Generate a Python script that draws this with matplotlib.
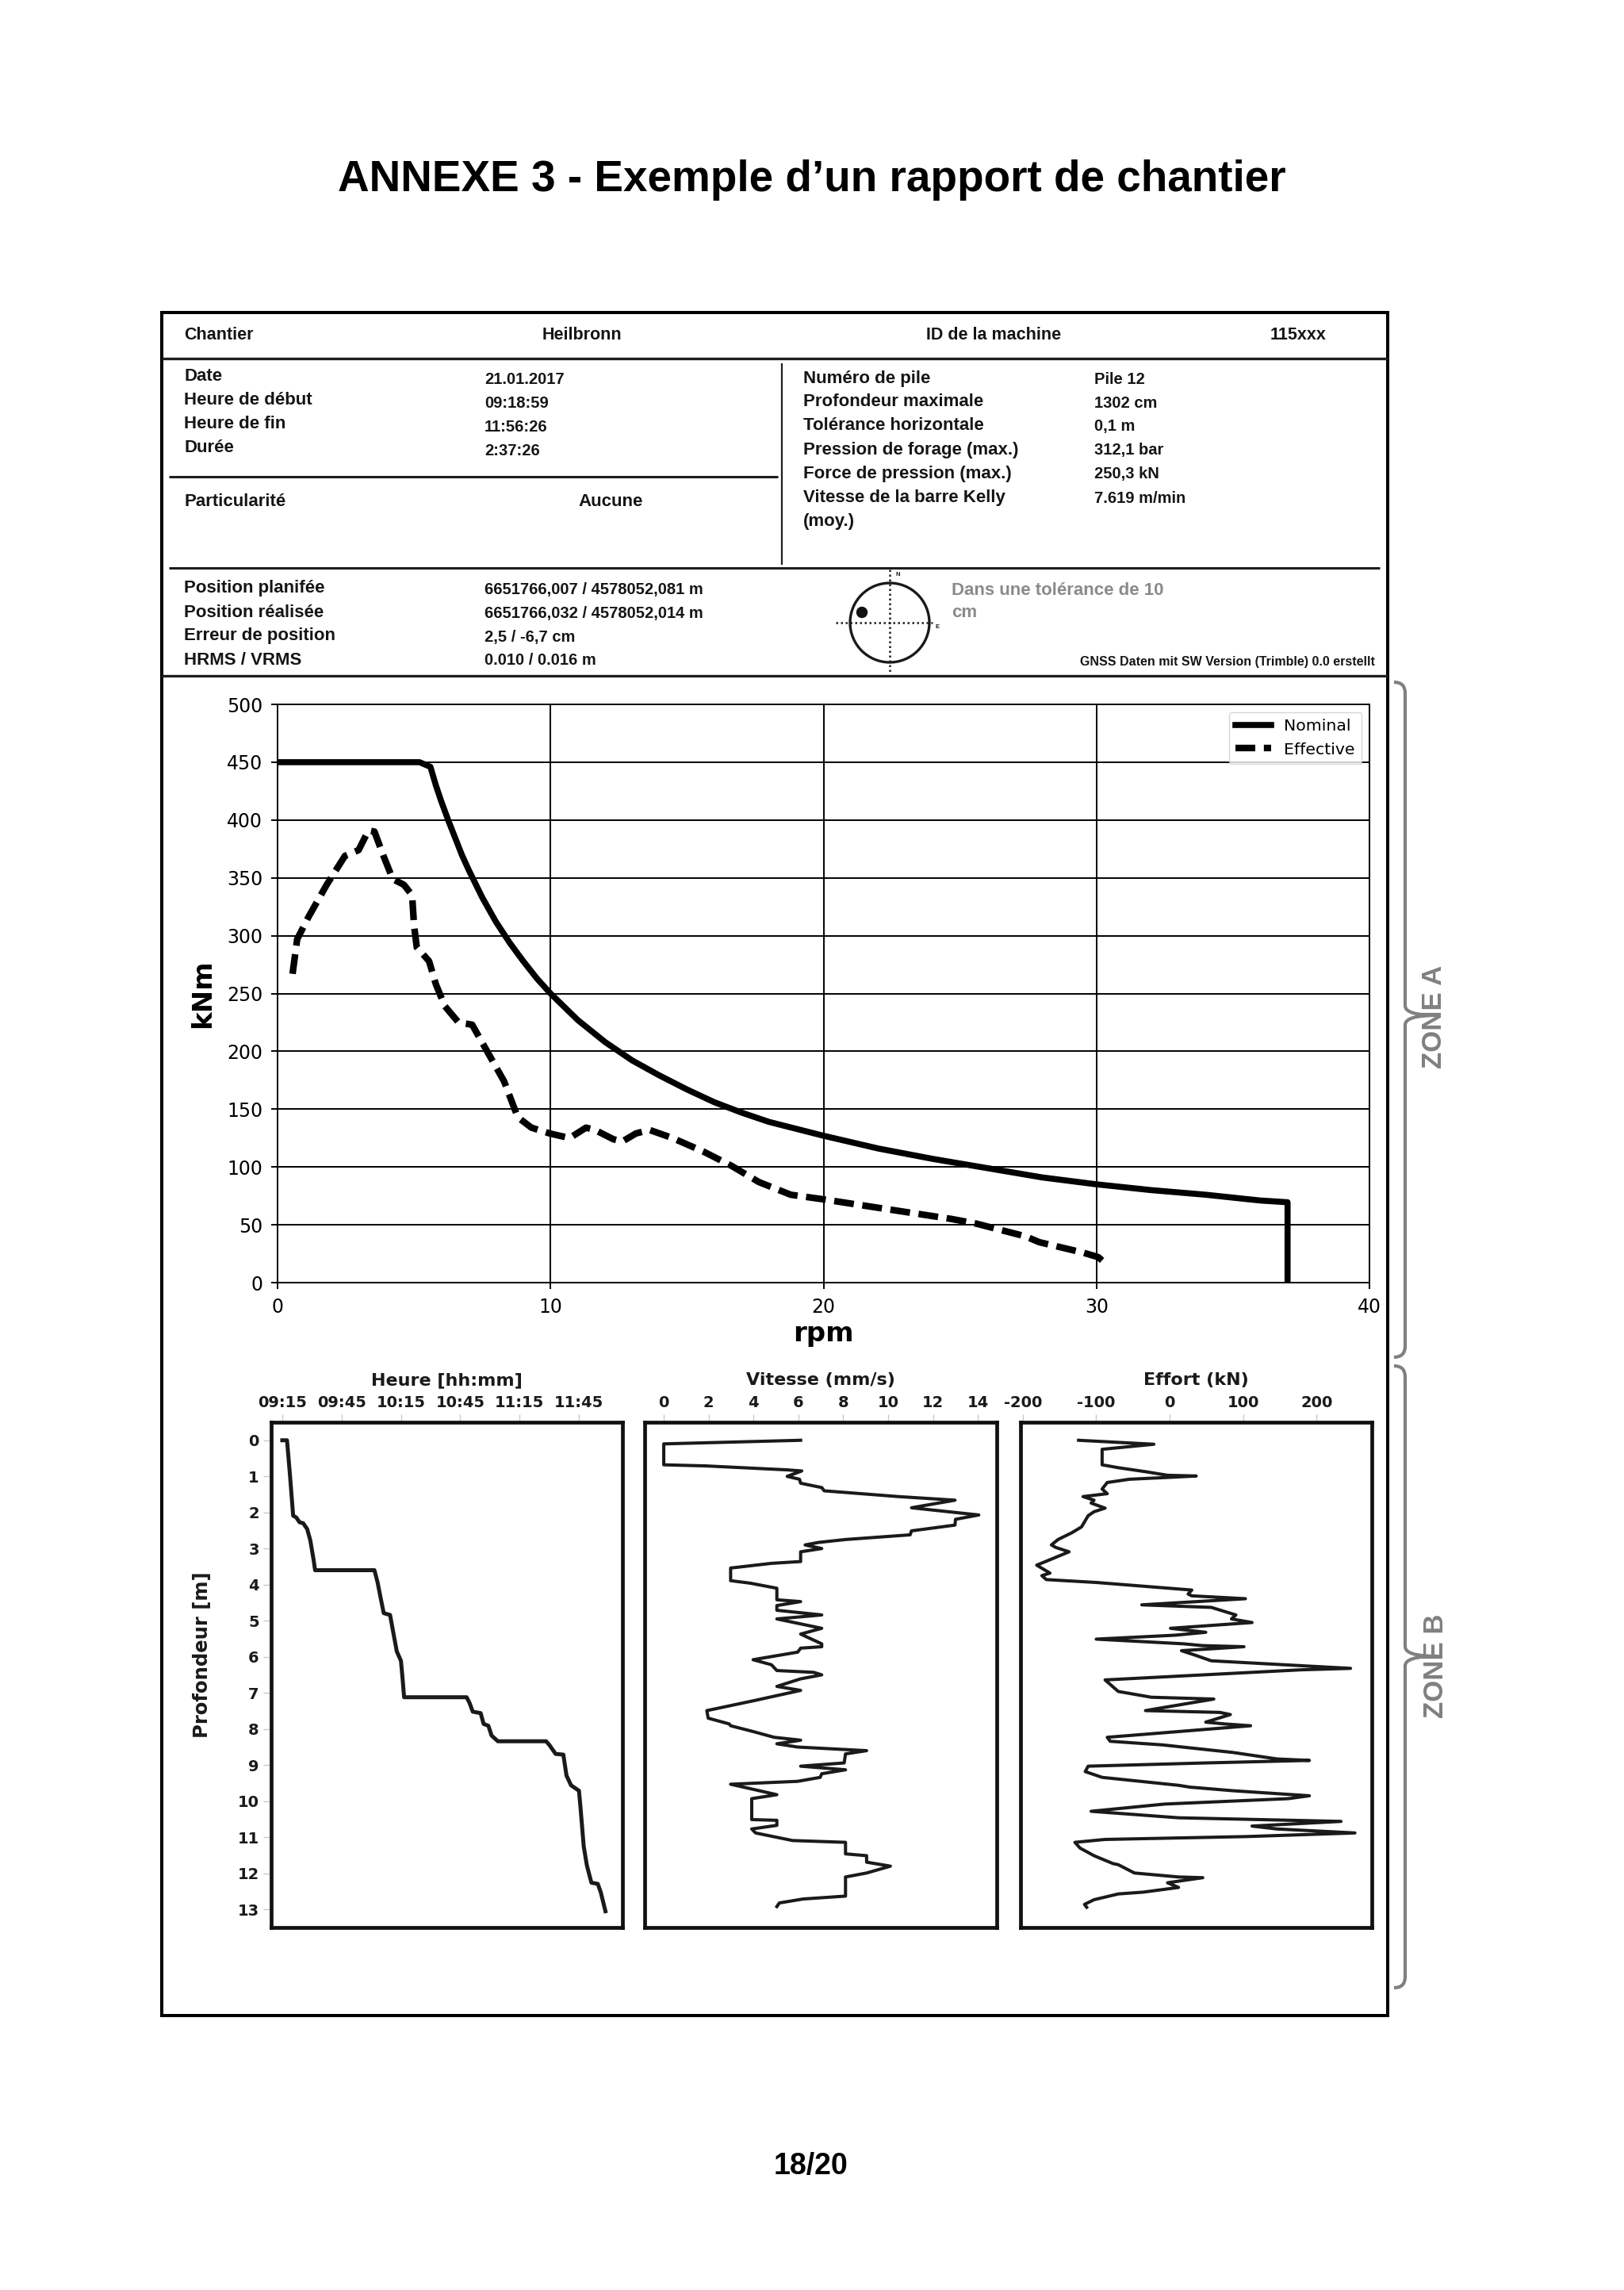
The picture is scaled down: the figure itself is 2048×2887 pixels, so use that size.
import matplotlib
matplotlib.use('Agg')
import matplotlib.pyplot as plt
from matplotlib.path import Path
from matplotlib.patches import PathPatch, Circle, Rectangle

W, H = 2048, 2887
DPI = 100

# ---------------- data ----------------
nom_rpm = [0, 5.2, 5.6, 5.8, 6.0, 6.25, 6.5, 6.75, 7, 7.5, 8, 8.5, 9, 9.5, 10, 11, 12, 13, 14,
           15, 16, 17, 18, 19, 20, 22, 24, 26, 28, 30, 32, 34, 36, 37, 37]
nom_knm = [450, 450, 446, 430, 416, 400, 385, 370, 357, 333, 312, 294, 278, 263, 250, 227,
           208, 192, 179, 167, 156, 147, 139, 133, 127, 116, 107, 99, 91, 85, 80, 76, 71,
           69.5, 0]
eff_rpm = [0.55, 0.72, 1.13, 1.8, 2.47, 2.97, 3.33, 3.55, 3.88, 4.22, 4.63, 4.93, 5.0, 5.1,
           5.55, 5.8, 6.13, 6.63, 7.13, 7.63, 8.3, 8.8, 9.3, 9.97, 10.7, 11.3, 11.63, 12.3,
           12.63, 13.13, 13.63, 14.47, 15.63, 16.63, 17.63, 18.8, 20.0, 22.2, 24.7, 25.6,
           27.4, 27.9, 29.5, 30.07, 30.4]
eff_knm = [267, 297, 316, 344, 369, 374, 391, 390, 369, 349, 344, 335, 309, 290, 278, 258,
           239, 225, 223, 202, 174, 143, 134, 129, 125, 134, 132, 124, 122, 129, 132, 125,
           113, 101, 87, 76, 72, 64, 55, 51, 40, 35, 26, 22, 15]
rpm_ticks = [0, 10, 20, 30, 40]
knm_ticks = [0, 50, 100, 150, 200, 250, 300, 350, 400, 450, 500]

time_min = [0, 2.4, 3.9, 5.5, 7.1, 8.7, 10.6, 12.6, 14.2, 15.8, 16.6, 46.6, 48.2, 49.7, 51.3,
            54.5, 56.1, 57.9, 60.0, 60.8, 61.6, 93.2, 94.7, 96.3, 100.3, 101.8, 104.2, 105.8,
            109.0, 133.4, 135.0, 138.2, 142.1, 143.7, 146.0, 150.0, 150.8, 152.4, 154.0,
            156.3, 159.5, 161.0, 163.4]
depth_time = [0, 0, 0.97, 2.09, 2.14, 2.27, 2.30, 2.46, 2.78, 3.3, 3.6, 3.6, 3.94, 4.36, 4.79,
              4.84, 5.32, 5.85, 6.11, 6.59, 7.12, 7.12, 7.28, 7.52, 7.56, 7.86, 7.91, 8.18,
              8.34, 8.34, 8.44, 8.69, 8.71, 9.29, 9.56, 9.71, 10.19, 11.25, 11.78, 12.26,
              12.29, 12.52, 13.05]
time_ticks = [0, 30, 60, 90, 120, 150]
time_labels = ['09:15', '09:45', '10:15', '10:45', '11:15', '11:45']

speed_val = [6.1, 0.0, 0.0, 1.86, 5.5, 6.15, 5.5, 6.05, 6.1, 7.04, 7.15, 10.45, 12.98, 11.04,
             14.04, 13.0, 12.98, 11.04, 10.98, 8.1, 6.9, 6.3, 7.04, 6.1, 6.1, 4.8, 2.98, 2.98,
             3.86, 5.04, 5.04, 6.1, 5.04, 5.04, 7.04, 5.04, 7.04, 6.1, 7.04, 7.04, 6.1, 5.97,
             3.98, 4.8, 5.04, 6.68, 7.04, 6.1, 5.04, 6.1, 3.98, 1.92, 1.98, 2.92, 2.98, 3.98,
             4.92, 6.1, 5.04, 5.97, 9.04, 8.1, 8.04, 6.1, 8.1, 7.04, 6.97, 5.97, 2.98, 5.04,
             3.92, 3.92, 5.04, 5.04, 3.92, 4.09, 5.74, 8.1, 8.1, 9.04, 9.04, 10.1, 9.04, 8.1,
             8.1, 6.21, 5.15, 5.04]
speed_depth = [0.0, 0.1, 0.68, 0.71, 0.82, 0.85, 1.0, 1.08, 1.19, 1.31, 1.40, 1.56, 1.66, 1.87,
               2.07, 2.19, 2.35, 2.51, 2.62, 2.75, 2.83, 2.90, 3.0, 3.09, 3.36, 3.41, 3.54,
               3.89, 3.96, 4.1, 4.42, 4.47, 4.58, 4.71, 4.84, 4.95, 5.21, 5.37, 5.64, 5.72,
               5.76, 5.87, 6.08, 6.22, 6.38, 6.43, 6.50, 6.61, 6.82, 6.93, 7.22, 7.49, 7.70,
               7.86, 7.91, 8.07, 8.23, 8.31, 8.41, 8.5, 8.6, 8.69, 8.94, 9.03, 9.13, 9.24,
               9.34, 9.45, 9.53, 9.82, 9.93, 10.51, 10.53, 10.67, 10.77, 10.88, 11.09, 11.14,
               11.46, 11.51, 11.69, 11.8, 11.99, 12.1, 12.63, 12.71, 12.82, 12.92]
speed_ticks = [0, 2, 4, 6, 8, 10, 12, 14]

effort_val = [-124, -21.6, -92, -92, -70, -33, -3, 36, -3, -55, -85, -92, -85, -118, -103,
              -107, -88, -103, -111, -120, -133, -152, -161, -155, -137, -163, -181, -163,
              -174, -168, -100, 30, 25, 30, 103, -38, 56.5, 90, 84, 112, 1, 49, 8, -100, 19,
              45, 101, 16, 34, 56.5, 246, 179, -88, -70, -25, 60, -33, 68, 82.5, 49, 75, 110,
              -85, -81, -10, 86, 146, 190, 49, -111, -115, -92, 12, 27, 86, 190, 161, -7,
              -107, 12, 233, 112, 146, 252, 105, -88, -129, -122, -103, -96, -77, -70, -48,
              12, 45, -3, 12, -36, -70, -103, -116, -113]
effort_depth = [0, 0.11, 0.25, 0.68, 0.76, 0.87, 0.97, 0.99, 1.03, 1.08, 1.17, 1.35, 1.48,
                1.56, 1.66, 1.74, 1.88, 1.98, 2.09, 2.40, 2.56, 2.75, 2.90, 2.97, 3.09, 3.31,
                3.46, 3.68, 3.75, 3.86, 3.94, 4.15, 4.26, 4.31, 4.39, 4.56, 4.63, 4.84, 4.95,
                5.05, 5.21, 5.32, 5.40, 5.51, 5.64, 5.69, 5.72, 5.83, 5.95, 6.11, 6.32, 6.36,
                6.64, 6.96, 7.12, 7.17, 7.49, 7.54, 7.60, 7.81, 7.86, 7.91, 8.23, 8.34, 8.44,
                8.65, 8.83, 8.87, 8.94, 9.03, 9.18, 9.34, 9.56, 9.61, 9.71, 9.85, 9.93, 10.08,
                10.28, 10.46, 10.56, 10.69, 10.77, 10.88, 10.98, 11.06, 11.14, 11.30, 11.51,
                11.57, 11.73, 11.76, 11.99, 12.10, 12.12, 12.26, 12.39, 12.52, 12.57, 12.73,
                12.86, 12.94]
effort_ticks = [-200, -100, 0, 100, 200]
depth_ticks = list(range(14))

head_labels = ['Chantier', 'Heilbronn', 'ID de la machine', '115xxx']
left_labels = ['Date', 'Heure de début', 'Heure de fin', 'Durée']
left_values = ['21.01.2017', '09:18:59', '11:56:26', '2:37:26']
right_labels = ['Numéro de pile', 'Profondeur maximale', 'Tolérance horizontale',
                'Pression de forage (max.)', 'Force de pression (max.)',
                'Vitesse de la barre Kelly', '(moy.)']
right_values = ['Pile 12', '1302 cm', '0,1 m', '312,1 bar', '250,3 kN', '7.619 m/min']
pos_labels = ['Position planifée', 'Position réalisée', 'Erreur de position', 'HRMS / VRMS']
pos_values = ['6651766,007 / 4578052,081 m', '6651766,032 / 4578052,014 m',
              '2,5 / -6,7 cm', '0.010 / 0.016 m']

# ---------------- figure ----------------
fig = plt.figure(figsize=(W / DPI, H / DPI), dpi=DPI)
fig.patch.set_facecolor('white')

def rect(x0, y0, x1, y1):
    return [x0 / W, 1 - y1 / H, (x1 - x0) / W, (y1 - y0) / H]

ov = fig.add_axes([0, 0, 1, 1])
ov.set_xlim(0, W)
ov.set_ylim(H, 0)
ov.axis('off')

HF = 'Liberation Sans'
INK = '#151515'

def T(x, y, s, size=16, weight='bold', ha='left', color=INK, **kw):
    ov.text(x, y, s, fontsize=size, fontweight=weight, ha=ha, va='center',
            color=color, family=HF, **kw)

def L(xs, ys, lw=2.2, color='#1e1e1e', **kw):
    ov.plot(xs, ys, color=color, lw=lw, solid_capstyle='butt', **kw)

# title + page number
fig.text(1024 / W, 1 - 227 / H, 'ANNEXE 3 - Exemple d\u2019un rapport de chantier',
         ha='center', va='center', fontsize=39.5, fontweight='bold', family=HF, color='black')
fig.text(1022 / W, 1 - 2731 / H, '18/20', ha='center', va='center', fontsize=27,
         fontweight='bold', family=HF, color='black')

# outer frame and table lines
ov.add_patch(Rectangle((204, 394), 1750 - 204, 2541 - 394, fill=False, lw=2.9,
                       edgecolor='black'))
L([204, 1750], [452, 452], lw=2.4)
L([213, 981], [601, 601], lw=2.2)
L([986, 986], [458, 712], lw=1.6)
L([213, 1740], [716, 716], lw=2.2)
L([204, 1750], [852, 852], lw=2.4)

# header row
T(232, 422, head_labels[0], size=15.5)
T(734, 422, head_labels[1], size=15.5, ha='center')
T(1253, 422, head_labels[2], size=15.5, ha='center')
T(1637, 422, head_labels[3], size=15.5, ha='center')

for i, (lab, val) in enumerate(zip(left_labels, left_values)):
    T(232, 474 + 30.3 * i, lab, size=16)
    T(611, 478 + 30.3 * i, val, size=14.5)
for i, lab in enumerate(right_labels):
    T(1013, 477 + 30 * i, lab, size=16)
for i, val in enumerate(right_values):
    T(1380, 478 + 30 * i, val, size=14.5)
T(233, 632, 'Particularité', size=16)
T(770, 632, 'Aucune', size=16, ha='center')
for i, (lab, val) in enumerate(zip(pos_labels, pos_values)):
    T(232, 742 + 30 * i, lab, size=16)
    T(611, 743 + 30 * i, val, size=14.5)

# tolerance symbol
ov.add_patch(Circle((1122, 785), 50, fill=False, lw=2.4, edgecolor='#1a1a1a'))
L([1122, 1122], [718, 848], lw=1.8, linestyle=(0, (1, 1.4)))
L([1054, 1176], [785, 785], lw=1.8, linestyle=(0, (1, 1.4)))
ov.add_patch(Circle((1087, 772), 6.5, color='#111111'))
T(1129, 724, 'N', size=5.5)
T(1180, 791, 'E', size=5.5)
T(1200, 745, 'Dans une tolérance de 10', size=16, color='#8a8a8a')
T(1200, 773, 'cm', size=16, color='#8a8a8a')
ov.text(1734, 835, 'GNSS Daten mit SW Version (Trimble) 0.0 erstellt', fontsize=11.5,
        fontweight='bold', ha='right', va='center', color=INK,
        family=['Liberation Sans Narrow', HF])

# zone braces
GRAY = '#808080'
def brace(x, y0, y1, ytip, hook=14, spur=40):
    verts = [(x - hook, y0), (x, y0), (x, y0 + hook),
             (x, ytip - 12), (x, ytip), (x + spur, ytip),
             (x, ytip), (x, ytip + 12),
             (x, y1 - hook), (x, y1), (x - hook, y1)]
    codes = [Path.MOVETO, Path.CURVE3, Path.CURVE3,
             Path.LINETO, Path.CURVE3, Path.CURVE3,
             Path.CURVE3, Path.CURVE3,
             Path.LINETO, Path.CURVE3, Path.CURVE3]
    ov.add_patch(PathPatch(Path(verts, codes), fill=False, lw=3.0, edgecolor=GRAY,
                           capstyle='butt', joinstyle='round'))

brace(1772, 860, 1711, 1280)
brace(1772, 1722, 2506, 2088)
ov.text(1809, 1282, 'ZONE A', rotation=90, fontsize=25, fontweight='bold', color=GRAY,
        ha='center', va='center', family=HF)
ov.text(1811, 2100, 'ZONE B', rotation=90, fontsize=25, fontweight='bold', color=GRAY,
        ha='center', va='center', family=HF)

# ---------------- zone A chart ----------------
ax = fig.add_axes(rect(350, 888, 1727, 1617))
ax.plot(nom_rpm, nom_knm, color='black', lw=5.5, label='Nominal',
        solid_joinstyle='round')
ax.plot(eff_rpm, eff_knm, color='black', lw=6.0, ls=(0, (3.0, 1.3)), label='Effective')
ax.set_xlim(0, 40)
ax.set_ylim(0, 500)
ax.set_xticks(rpm_ticks)
ax.set_yticks(knm_ticks)
ax.grid(True, color='black', lw=1.4)
ax.set_axisbelow(True)
for sp in ax.spines.values():
    sp.set_linewidth(1.4)
ax.tick_params(direction='out', length=6, width=1.4, labelsize=17, pad=7.5)
ax.set_xlabel('rpm', fontsize=24.5, fontweight='bold')
ax.set_ylabel('kNm', fontsize=24.5, fontweight='bold')
ax.xaxis.set_label_coords(0.5, -0.066)
ax.yaxis.set_label_coords(-0.0566, 0.5)
ax.legend(loc='upper right', fontsize=14.7, handlelength=2.2, borderaxespad=0.5)

# ---------------- zone B charts ----------------
def style_panel(a, xlim, xticks, xlabels, title):
    a.set_xlim(*xlim)
    a.set_ylim(13.5, -0.5)
    a.xaxis.tick_top()
    a.set_xticks(xticks)
    a.set_xticklabels(xlabels, fontsize=14, fontweight='bold', color='#1a1a1a')
    a.tick_params(axis='x', length=7, width=1, color='#c8c8c8', pad=4)
    for sp in a.spines.values():
        sp.set_linewidth(3.4)
        sp.set_color('#111111')
    a.xaxis.set_label_position('top')
    a.set_xlabel(title, fontsize=16, fontweight='bold', color='#1a1a1a')
    a.xaxis.set_label_coords(0.5, 1.0738)

axL = fig.add_axes(rect(342, 1793, 785, 2430))
axL.plot(time_min, depth_time, color='#1a1a1a', lw=3.6, solid_joinstyle='round')
style_panel(axL, (-5.6, 172), time_ticks, time_labels, 'Heure [hh:mm]')
axL.set_yticks(depth_ticks)
axL.set_yticklabels([str(d) for d in depth_ticks], fontsize=14, fontweight='bold',
                    color='#1a1a1a')
axL.tick_params(axis='y', length=7, width=1, color='#c8c8c8', pad=4)
axL.set_ylabel('Profondeur [m]', fontsize=17.5, fontweight='bold', color='#1a1a1a')
axL.yaxis.set_label_coords(-0.169, 0.54)

axM = fig.add_axes(rect(813, 1793, 1257, 2430))
axM.plot(speed_val, speed_depth, color='#1a1a1a', lw=2.9, solid_joinstyle='round')
style_panel(axM, (-0.85, 14.84), speed_ticks, [str(v) for v in speed_ticks],
            'Vitesse (mm/s)')
axM.set_yticks([])

axR = fig.add_axes(rect(1287, 1793, 1730, 2430))
axR.plot(effort_val, effort_depth, color='#1a1a1a', lw=2.9, solid_joinstyle='round')
style_panel(axR, (-203, 275), effort_ticks, ['-200', '-100', '0', '100', '200'],
            'Effort (kN)')
axR.set_yticks([])

fig.savefig('out.png', dpi=DPI, facecolor='white')
